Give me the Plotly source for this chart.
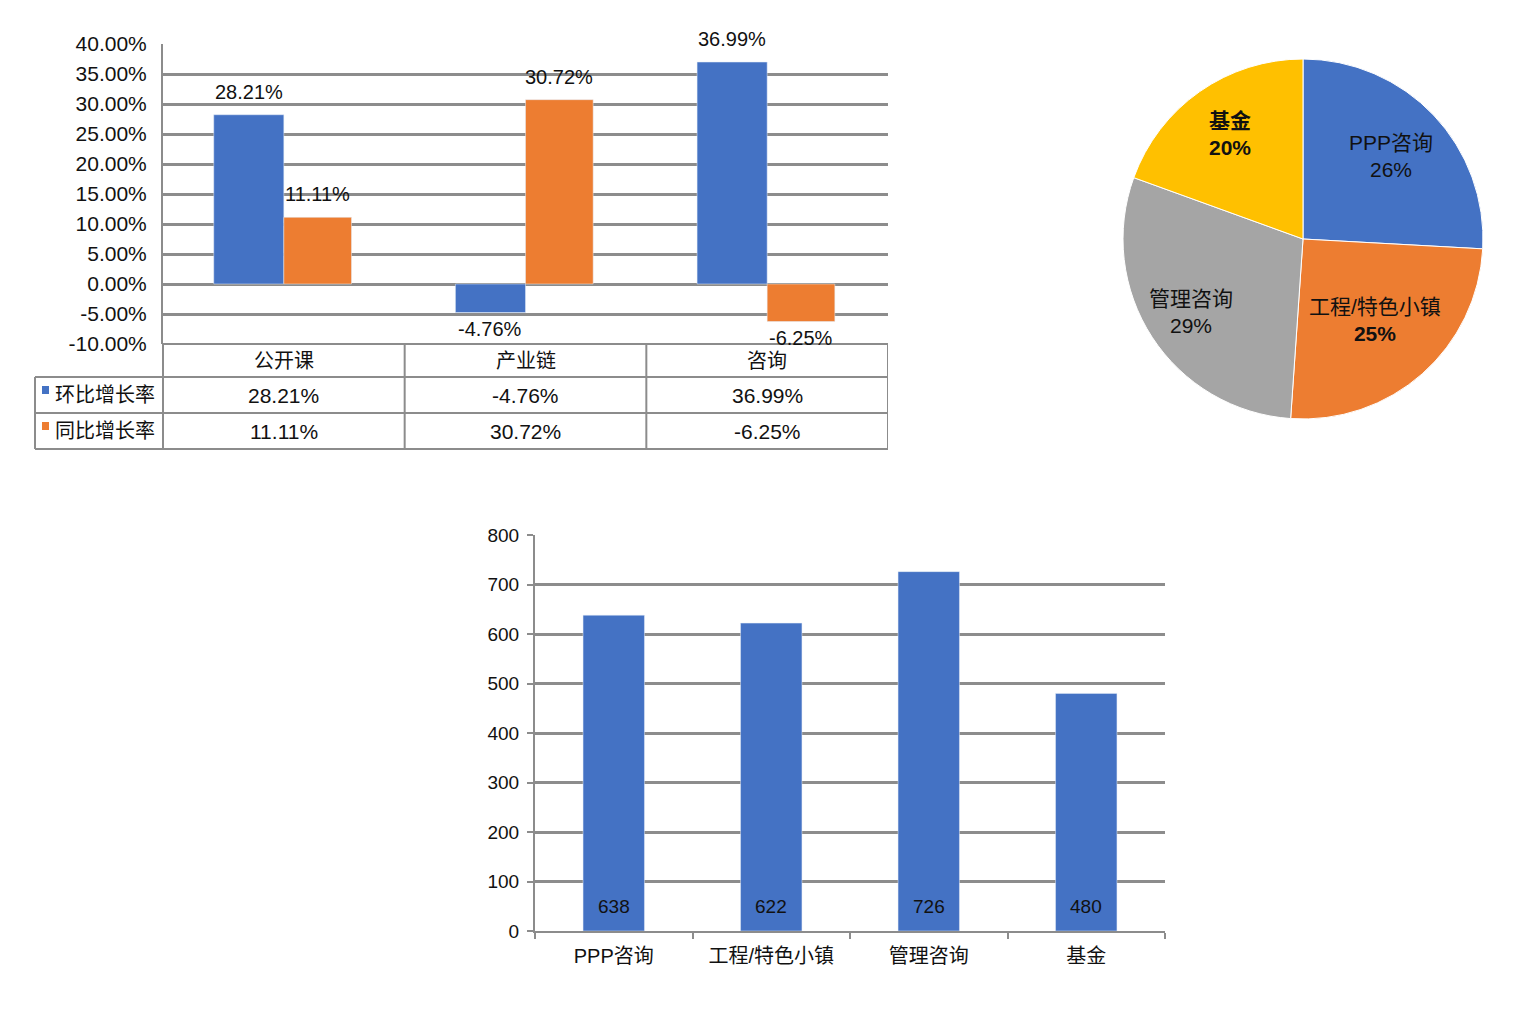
import math
import plotly.graph_objects as go

# top chart / table data
categories = ["公开课", "产业链", "咨询"]
series_names = ["环比增长率", "同比增长率"]
hb_rate = [0.2821, -0.0476, 0.3699]
tb_rate = [0.1111, 0.3072, -0.0625]
pct_ticks = [-0.10, -0.05, 0.0, 0.05, 0.10, 0.15, 0.20, 0.25, 0.30, 0.35, 0.40]

# bottom chart / pie data
business = ["PPP咨询", "工程/特色小镇", "管理咨询", "基金"]
business_vals = [638, 622, 726, 480]
pie_pct_labels = ["26%", "25%", "29%", "20%"]

BLUE = "#4472C4"
ORANGE = "#ED7D31"
GRAY = "#A5A5A5"
YELLOW = "#FFC000"
GRID = "#8C8C8C"
TXT = "#111111"
FONT = "Liberation Sans, Noto Sans CJK SC, sans-serif"

W, H = 1522, 1012
PAGE_OFF = 8  # page body margin


def px(x):
    return (x - PAGE_OFF) / W


def py(y):
    return 1 - (y - PAGE_OFF) / H


fig = go.Figure()

# top grouped bars
fig.add_trace(go.Bar(
    x=categories, y=hb_rate, name=series_names[0], marker_color=BLUE,
    width=0.29, offset=-0.29, xaxis="x", yaxis="y", showlegend=False))
fig.add_trace(go.Bar(
    x=categories, y=tb_rate, name=series_names[1], marker_color=ORANGE,
    width=0.28, offset=0, xaxis="x", yaxis="y", showlegend=False))

# pie
pie_cx, pie_cy, pie_r = 1303, 239, 180
fig.add_trace(go.Pie(
    labels=business, values=business_vals, sort=False, direction="clockwise",
    marker=dict(colors=[BLUE, ORANGE, GRAY, YELLOW], line=dict(color="white", width=1)),
    textinfo="none",
    domain=dict(x=[px(pie_cx - pie_r), px(pie_cx + pie_r)],
                y=[py(pie_cy + pie_r), py(pie_cy - pie_r)]),
    showlegend=False, hoverinfo="label+value+percent"))

# bottom bars
fig.add_trace(go.Bar(
    x=business, y=business_vals, marker_color=BLUE, width=0.39,
    xaxis="x2", yaxis="y2", showlegend=False))

shapes = []
annotations = []
line = dict(color=GRID, width=2)

# bar value labels (top chart)
for vals, off in [(hb_rate, -0.145), (tb_rate, 0.14)]:
    for i, v in enumerate(vals):
        annotations.append(dict(
            x=i + off, y=v, xref="x", yref="y", text=f"{v:.2%}", showarrow=False,
            xanchor="center", yanchor="middle", yshift=23 if v >= 0 else -16,
            font=dict(size=20, color=TXT)))

# bar value labels (bottom chart)
for name, v in zip(business, business_vals):
    annotations.append(dict(x=name, y=0, xref="x2", yref="y2", text=str(v),
                            showarrow=False, xanchor="center", yanchor="middle",
                            yshift=25, font=dict(size=19, color=TXT)))

# pie labels
total = sum(business_vals)
styles = [(False, False), (False, True), (False, False), (True, True)]
label_r = [0.67, 0.60, 0.74, 0.71]
start = 0.0
for name, v, pl, (bl, bp), fr in zip(business, business_vals, pie_pct_labels, styles, label_r):
    mid = (start + v / 2) / total * 2 * math.pi
    start += v
    rr = pie_r * fr
    lab = f"<b>{name}</b>" if bl else name
    pc = f"<b>{pl}</b>" if bp else pl
    annotations.append(dict(
        x=px(pie_cx + rr * math.sin(mid)), y=py(pie_cy - rr * math.cos(mid)),
        xref="paper", yref="paper", text=f"{lab}<br>{pc}", showarrow=False,
        xanchor="center", yanchor="middle", font=dict(size=21, color=TXT)))

# table lines
y_rows = [py(344), py(377), py(413), py(449)]
shapes.append(dict(type="line", xref="x", yref="paper", x0=-0.5, x1=2.5,
                   y0=y_rows[0], y1=y_rows[0], line=line))
for yy in y_rows[1:]:
    shapes.append(dict(type="line", xref="paper", yref="paper", x0=px(35), x1=px(888),
                       y0=yy, y1=yy, line=line))
shapes.append(dict(type="line", xref="paper", yref="paper", x0=px(163), x1=px(163),
                   y0=y_rows[3], y1=y_rows[0], line=line))
for b in [0.5, 1.5, 2.5]:
    shapes.append(dict(type="line", xref="x", yref="paper", x0=b, x1=b,
                       y0=y_rows[3], y1=y_rows[0], line=line))
shapes.append(dict(type="line", xref="paper", yref="paper", x0=px(35), x1=px(35),
                   y0=y_rows[3], y1=y_rows[1], line=line))

# table text
for c in categories:
    annotations.append(dict(x=c, y=(y_rows[0] + y_rows[1]) / 2, xref="x", yref="paper",
                            text=c, showarrow=False, xanchor="center", yanchor="middle",
                            font=dict(size=20, color=TXT)))
for i, (name, vals, col) in enumerate([(series_names[0], hb_rate, BLUE),
                                       (series_names[1], tb_rate, ORANGE)]):
    yc = (y_rows[i + 1] + y_rows[i + 2]) / 2
    for c, v in zip(categories, vals):
        annotations.append(dict(x=c, y=yc, xref="x", yref="paper", text=f"{v:.2%}",
                                showarrow=False, xanchor="center", yanchor="middle",
                                font=dict(size=21, color=TXT)))
    annotations.append(dict(x=px(53), y=yc, xref="paper", yref="paper", text=name,
                            xanchor="left", yanchor="middle", showarrow=False,
                            font=dict(size=20, color=TXT)))
    shapes.append(dict(type="rect", xref="paper", yref="paper", x0=px(42), x1=px(49),
                       y0=yc + 1 / H, y1=yc + 9 / H, fillcolor=col, line=dict(width=0)))

fig.update_layout(
    width=W, height=H, autosize=False,
    margin=dict(l=0, r=0, t=0, b=0, pad=0),
    paper_bgcolor="white", plot_bgcolor="white",
    font=dict(family=FONT, size=19, color=TXT),
    barmode="overlay",
    xaxis=dict(domain=[px(163), px(888)], range=[-0.5, 2.5], showticklabels=False,
               showgrid=False, showline=False, ticks="", automargin=False),
    yaxis=dict(domain=[py(344), py(44)], range=[-0.10, 0.40],
               tickvals=pct_ticks, ticktext=[f"{t:.2%}" for t in pct_ticks],
               showgrid=True, gridcolor=GRID, gridwidth=2.5,
               zeroline=True, zerolinecolor=GRID, zerolinewidth=2.5,
               showline=True, linecolor=GRID, linewidth=2, ticks="",
               ticklabelstandoff=10, automargin=False,
               tickfont=dict(size=21, color=TXT)),
    xaxis2=dict(domain=[px(535), px(1165)], range=[-0.5, 3.5], anchor="y2",
                showline=True, linecolor=GRID, linewidth=2, ticks="outside",
                tickson="boundaries", ticklen=6, tickcolor=GRID, tickwidth=1.5,
                ticklabelstandoff=6, automargin=False,
                showgrid=False, tickfont=dict(size=20, color=TXT)),
    yaxis2=dict(domain=[py(931), py(535)], range=[0, 800], dtick=100, anchor="x2",
                showgrid=True, gridcolor=GRID, gridwidth=2.5, zeroline=False,
                showline=True, linecolor=GRID, linewidth=2, ticks="outside",
                ticklen=6, tickcolor=GRID, tickwidth=2, ticklabelstandoff=4,
                automargin=False, tickfont=dict(size=19, color=TXT)),
    shapes=shapes,
    annotations=annotations,
)

fig.write_html("out.html")
